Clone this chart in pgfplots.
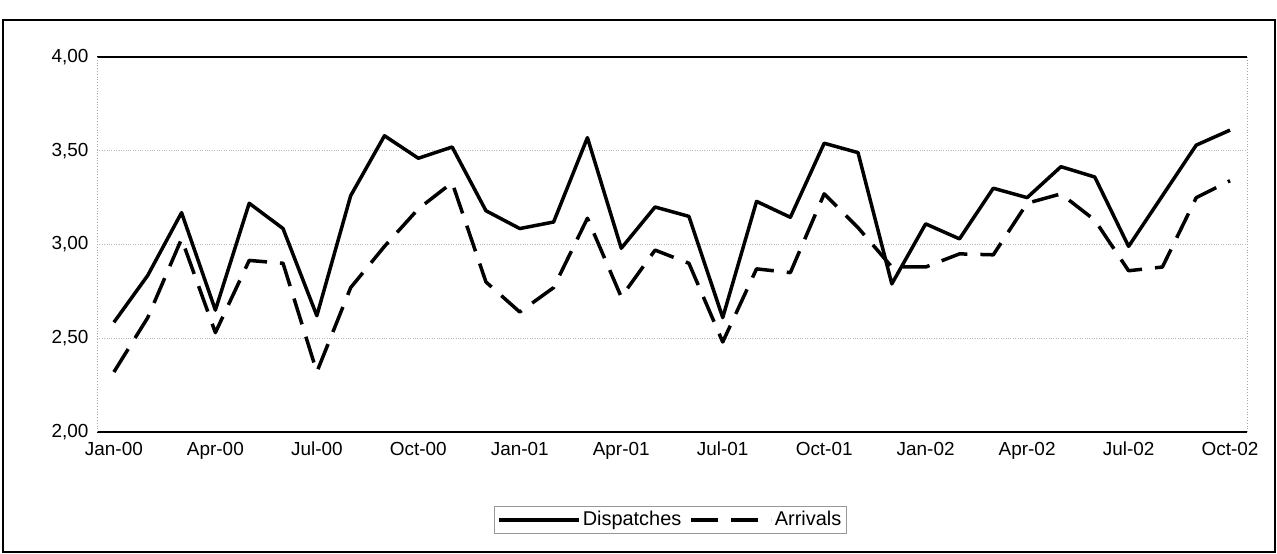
\documentclass[border=0pt]{standalone}
\usepackage{pgfplots}
\pgfplotsset{compat=1.18}
\usepackage{fontspec}
\setmainfont{Liberation Sans}
\begin{document}
\fontsize{19}{22}\selectfont
\begin{tikzpicture}
\useasboundingbox (0,0) rectangle (1277bp,554bp);
\draw[black, line width=1.2bp] (3bp,2bp) rectangle (1275bp,534bp);
\begin{axis}[
  at={(97bp,122bp)}, anchor=south west,
  width=1150bp, height=375bp, scale only axis,
  xmin=-0.5, xmax=33.5, ymin=2, ymax=4,
  xtick={0,3,...,33},
  xticklabels={Jan-00,Apr-00,Jul-00,Oct-00,Jan-01,Apr-01,Jul-01,Oct-01,Jan-02,Apr-02,Jul-02,Oct-02},
  ytick={2,2.5,3,3.5,4},
  major tick length=0pt,
  ymajorgrids, grid style={gray!55, dotted, line width=0.8bp},
  separate axis lines,
  x axis line style={black, line width=1.2bp},
  y axis line style={gray!70, dotted, line width=0.8bp},
  /pgf/number format/.cd, fixed, fixed zerofill, precision=2, use comma, assume math mode=true,
  /pgfplots/.cd,
  ticklabel style={font=\fontsize{19}{22}\selectfont},
  yticklabel style={xshift=-2bp},
  xticklabel style={yshift=-3bp, text height=14bp, text depth=4bp},
  legend style={at={(0.4985,-0.235)}, anchor=center, draw=gray!80, line width=0.8bp,
    inner sep=3bp, legend columns=2, font=\fontsize{20}{23}\selectfont,
    /tikz/every even column/.style={column sep=6bp}},
  legend image code/.code={\draw[#1] (0bp,0bp) -- (80bp,0bp);},
]
\addplot[black, line width=3.5bp, line join=round] coordinates {
(0,2.585)(1,2.835)(2,3.17)(3,2.65)(4,3.22)(5,3.085)(6,2.62)(7,3.26)(8,3.58)(9,3.46)
(10,3.52)(11,3.18)(12,3.085)(13,3.12)(14,3.57)(15,2.98)(16,3.20)(17,3.15)(18,2.61)(19,3.23)
(20,3.145)(21,3.54)(22,3.49)(23,2.79)(24,3.11)(25,3.03)(26,3.30)(27,3.25)(28,3.415)(29,3.36)
(30,2.99)(31,3.26)(32,3.53)(33,3.61)};
\addlegendentry{Dispatches}
\addplot[black, line width=3.5bp, line join=round, dash pattern=on 27bp off 13bp] coordinates {
(0,2.32)(1,2.61)(2,3.03)(3,2.53)(4,2.915)(5,2.90)(6,2.32)(7,2.77)(8,2.99)(9,3.19)
(10,3.33)(11,2.80)(12,2.64)(13,2.77)(14,3.14)(15,2.72)(16,2.97)(17,2.90)(18,2.48)(19,2.87)
(20,2.85)(21,3.27)(22,3.09)(23,2.88)(24,2.88)(25,2.95)(26,2.945)(27,3.22)(28,3.27)(29,3.13)
(30,2.86)(31,2.88)(32,3.25)(33,3.34)};
\addlegendentry{Arrivals}
\end{axis}
\end{tikzpicture}
\end{document}
